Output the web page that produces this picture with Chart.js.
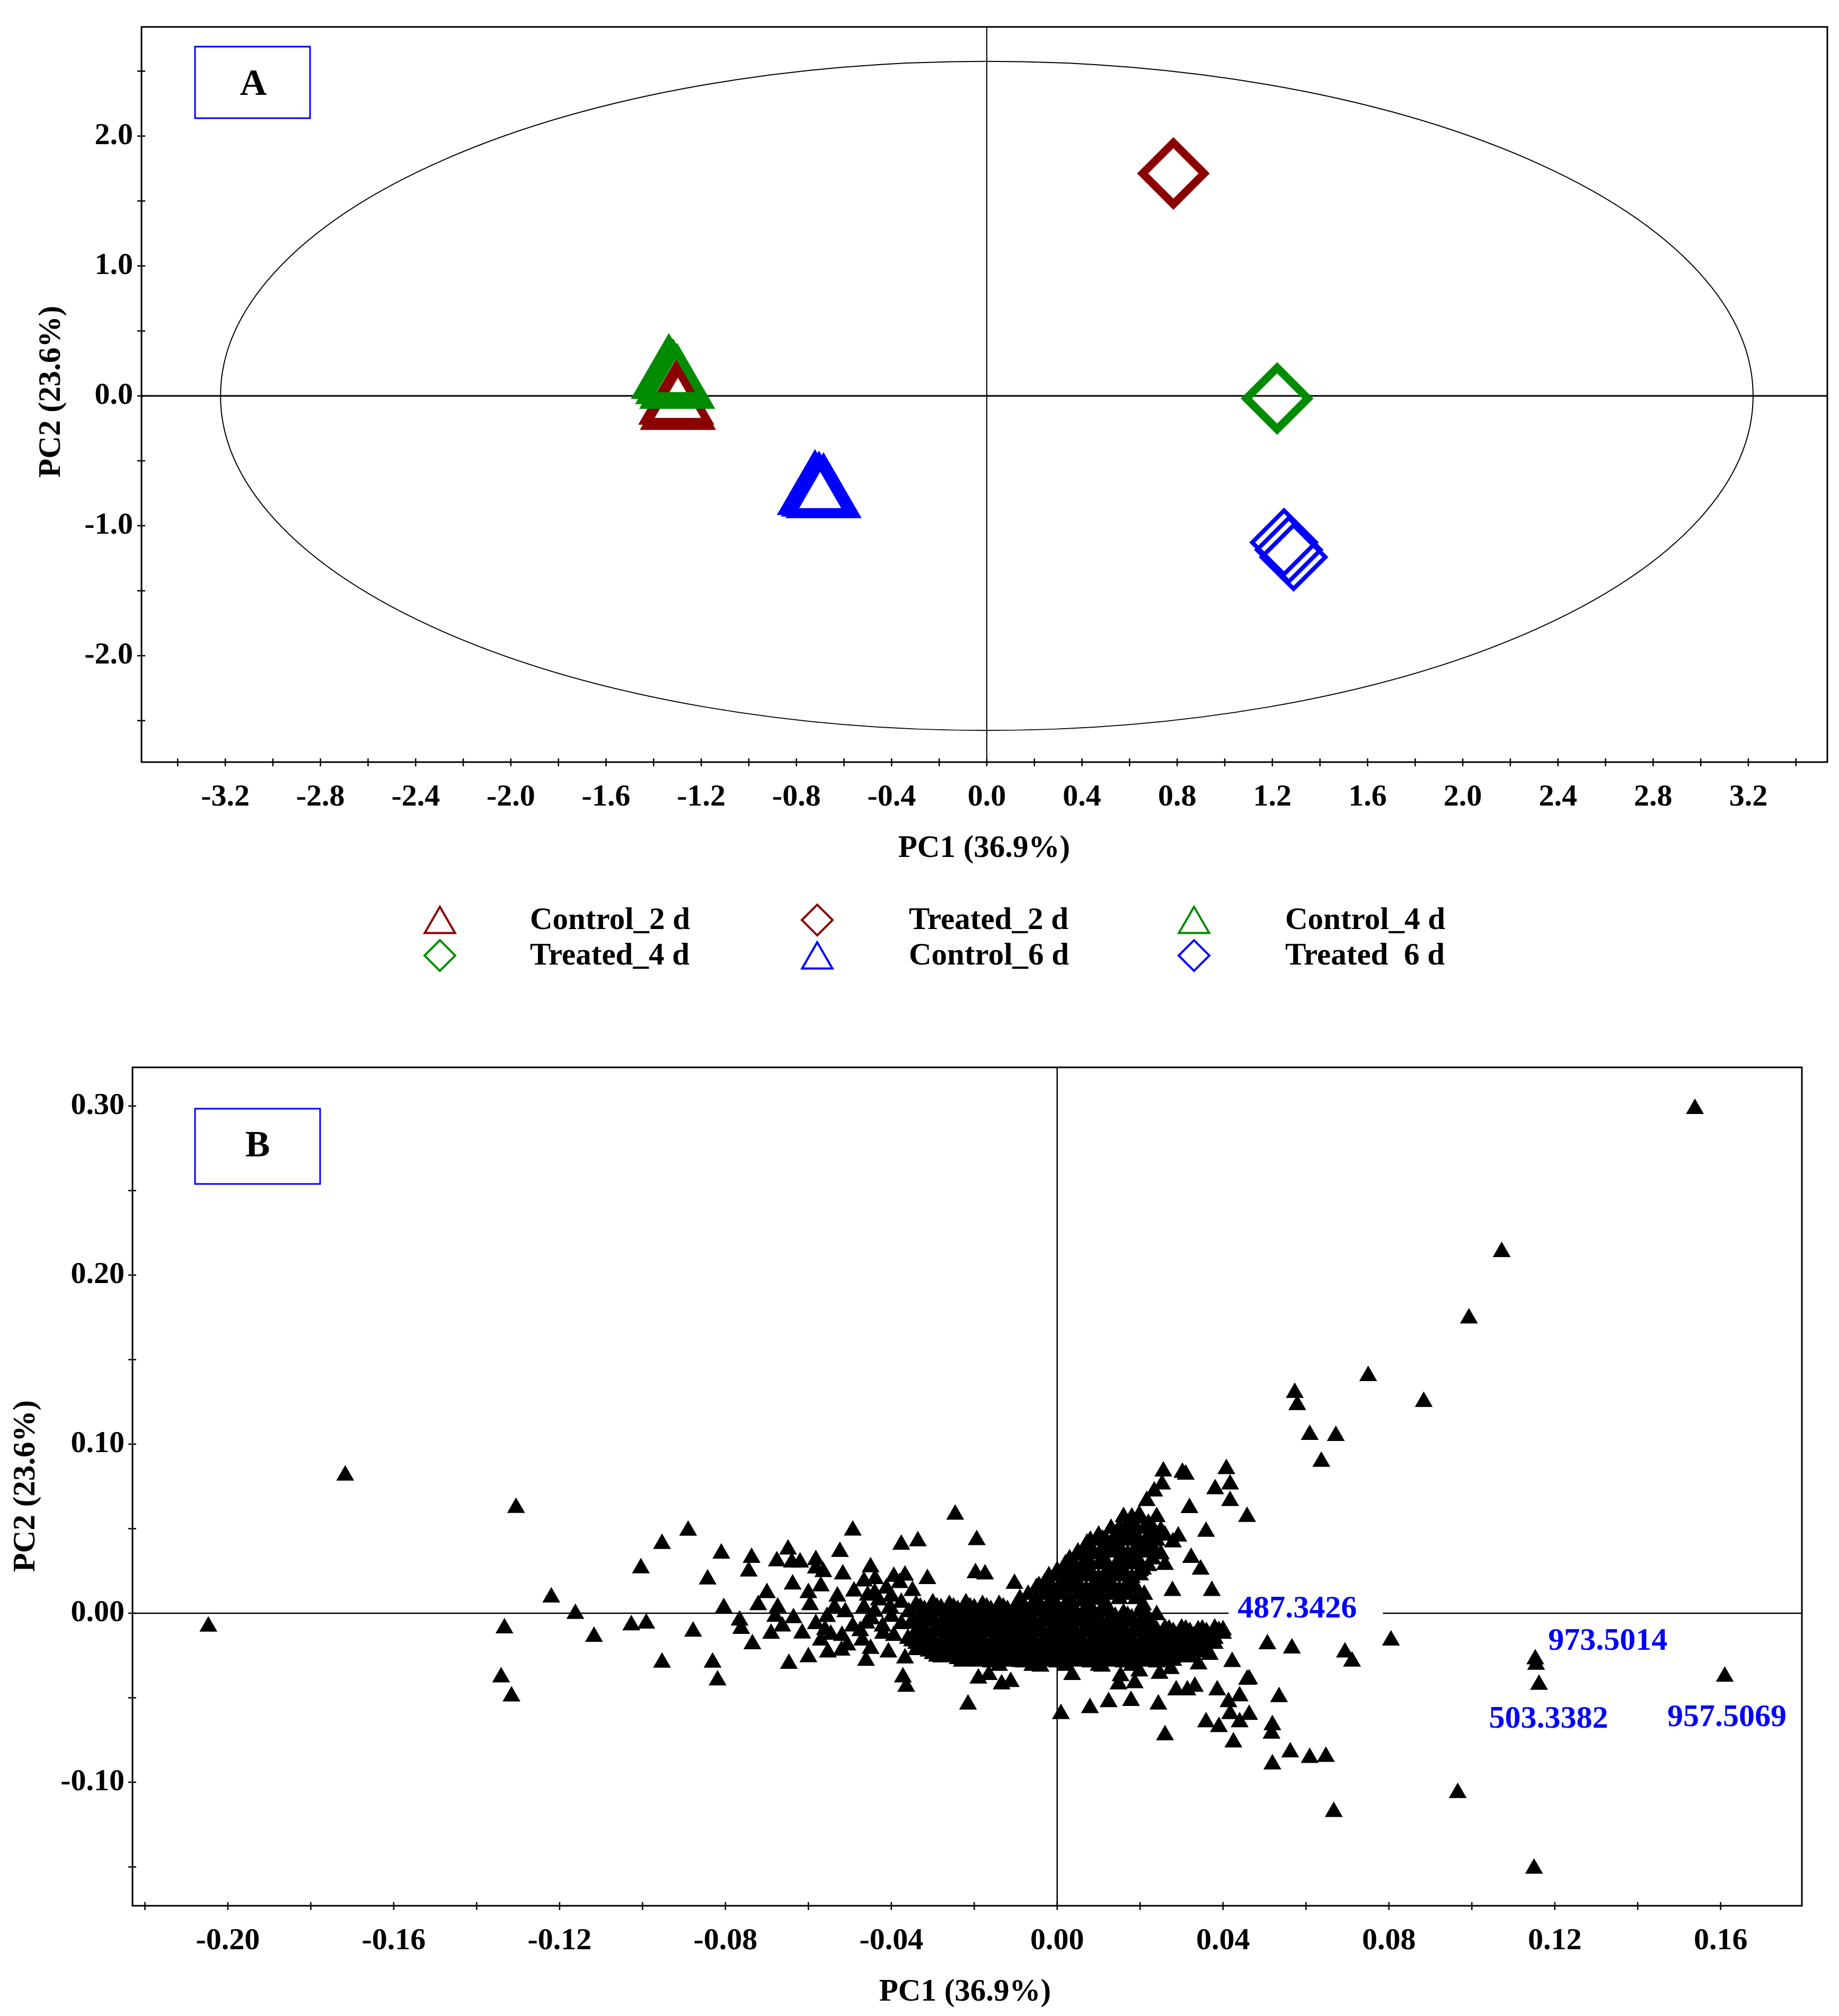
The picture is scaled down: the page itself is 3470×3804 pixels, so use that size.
<!DOCTYPE html>
<html>
<head>
<meta charset="utf-8">
<title>PCA scores and loadings</title>
<script src="https://cdn.jsdelivr.net/npm/chart.js@4.4.1/dist/chart.umd.min.js"></script>
<style>
  html, body { margin: 0; padding: 0; background: #fff; }
  #page { position: relative; width: 3470px; height: 3804px; background: #fff; overflow: hidden; }
  canvas { position: absolute; left: 0; }
</style>
</head>
<body>
<div id="page">
  <canvas id="scoresA" width="3470" height="1900" style="top:0"></canvas>
  <canvas id="loadingsB" width="3470" height="1904" style="top:1900px"></canvas>
</div>
<script>
const FONT = "'Liberation Serif', 'Times New Roman', serif";
const RED = '#8b0000', GREEN = '#008c00', BLUE = '#0000ff';

// ---- A : scores, [PC1, PC2]
const control2d = [[-1.305, -0.053], [-1.298, -0.093]];
const treated2d = [[0.784, 1.712]];
const control4d = [[-1.336, 0.146], [-1.318, 0.105], [-1.301, 0.069]];
const treated4d = [[1.220, -0.020]];
const control6d = [[-0.722, -0.748], [-0.705, -0.760], [-0.686, -0.772]];
const treated6d = [[1.249, -1.128], [1.269, -1.185], [1.289, -1.241]];
const groupNames = ['Control_2 d', 'Treated_2 d', 'Control_4 d', 'Treated_4 d', 'Control_6 d', 'Treated  6 d'];
const ellipseAxes = [3.22, 2.575];   // Hotelling T2 semi-axes (PC1, PC2)

// ---- B : loadings, [PC1, PC2]
const loadingsFarLeft = [
  [-0.2047, -0.0078], [-0.1717, 0.0815], [-0.1305, 0.0624], [-0.1341, -0.0378], [-0.1316, -0.0491],
  [-0.1333, -0.0088], [-0.1220, 0.0094], [-0.1162, -0.0003], [-0.1117, -0.0138], [-0.1027, -0.0070],
  [-0.0991, -0.0060], [-0.1004, 0.0267], [-0.0953, 0.0411], [-0.0890, 0.0489], [-0.0953, -0.0291],
  [-0.0878, -0.0108], [-0.0843, 0.0201], [-0.0831, -0.0291], [-0.0819, -0.0396], [-0.0810, 0.0354],
  [-0.0804, 0.0032]
];
const loadingsLeft = [
  [-0.0737, 0.0329], [-0.0649, 0.0378], [-0.0676, 0.0308], [-0.0640, 0.0301], [-0.0620, 0.0301],
  [-0.0582, 0.0315], [-0.0524, 0.0364], [-0.0744, 0.0248], [-0.0638, 0.0171], [-0.0582, 0.0266],
  [-0.0564, 0.0245], [-0.0517, 0.0231], [-0.0450, 0.0273], [-0.0394, 0.0217], [-0.0367, 0.0224],
  [-0.0721, 0.0049], [-0.0674, 0.0035], [-0.0596, 0.0049], [-0.0762, -0.0091], [-0.0766, -0.0042],
  [-0.0735, -0.0182], [-0.0663, -0.0077], [-0.0636, -0.0028], [-0.0615, -0.0119], [-0.0560, -0.0098],
  [-0.0546, -0.0126], [-0.0647, -0.0298], [-0.0600, -0.0259], [-0.0553, -0.0231], [-0.0506, -0.0189],
  [-0.0461, -0.0280], [-0.0407, -0.0231], [-0.0372, -0.0378], [-0.0364, -0.0434], [-0.0367, -0.0266],
  [-0.0511, 0.0007], [-0.0493, -0.0077], [-0.0519, -0.0133], [-0.0555, -0.0021], [-0.0582, -0.0063],
  [-0.0537, 0.0035], [-0.0466, 0.0189], [-0.0439, 0.0203], [-0.0412, 0.0147], [-0.0457, 0.0105],
  [-0.0430, 0.0077], [-0.0466, 0.0035], [-0.0403, 0.0035], [-0.0448, -0.0035], [-0.0421, -0.0077],
  [-0.0475, -0.0105], [-0.0376, 0.0063], [-0.0349, 0.0133], [-0.0358, 0.0007], [-0.0376, -0.0063],
  [-0.0340, -0.0105], [-0.0322, -0.0175], [-0.0394, -0.0133],
  [-0.0440, 0.0120], [-0.0400, 0.0100], [-0.0380, 0.0180], [-0.0360, -0.0150], [-0.0420, -0.0120],
  [-0.0460, -0.0060], [-0.0400, -0.0020], [-0.0440, 0.0010], [-0.0680, -0.0020], [-0.0700, 0.0120],
  [-0.0600, 0.0120], [-0.0570, 0.0160], [-0.0530, 0.0100], [-0.0490, 0.0130], [-0.0470, -0.0160],
  [-0.0520, -0.0220], [-0.0570, -0.0160], [-0.0690, -0.0120], [-0.0450, -0.0210]
];
const loadingsUpper = [
  [-0.0246, 0.0584], [-0.0493, 0.0490], [-0.0376, 0.0406], [-0.0336, 0.0427], [-0.0194, 0.0434],
  [-0.0197, 0.0238], [-0.0174, 0.0231], [-0.0103, 0.0175], [-0.0313, 0.0203], [-0.0044, 0.0161],
  [-0.0017, 0.0175], [0.0018, 0.0245], [0.0041, 0.0259]
];
const loadingsLower = [
  [-0.0340, -0.0217], [-0.0295, -0.0217], [-0.0228, -0.0273], [-0.0215, -0.0539], [-0.0190, -0.0385],
  [-0.0165, -0.0364], [-0.0134, -0.0420], [-0.0112, -0.0406], [-0.0089, -0.0287], [-0.0040, -0.0315],
  [0.0009, -0.0595], [0.0036, -0.0364], [0.0079, -0.0560], [0.0124, -0.0525], [0.0178, -0.0518],
  [0.0244, -0.0539], [0.0148, -0.0420], [0.0187, -0.0413], [0.0260, -0.0721], [0.0287, -0.0455],
  [0.0314, -0.0455], [0.0332, -0.0434], [0.0359, -0.0644], [0.0390, -0.0672], [0.0425, -0.0763],
  [0.0440, -0.0644], [0.0417, -0.0595], [0.0413, -0.0525], [0.0440, -0.0490], [0.0386, -0.0455],
  [0.0422, -0.0287], [0.0458, -0.0392], [0.0341, -0.0301], [0.0368, -0.0245], [0.0247, -0.0357],
  [0.0274, -0.0329], [0.0153, -0.0371], [0.0198, -0.0343], [0.0108, -0.0315]
];
const loadingsWing = [
  [0.0256, 0.0840], [0.0310, 0.0821], [0.0302, 0.0832], [0.0408, 0.0854], [0.0381, 0.0735],
  [0.0417, 0.0763], [0.0417, 0.0665], [0.0319, 0.0623], [0.0359, 0.0483], [0.0292, 0.0455],
  [0.0279, 0.0420], [0.0234, 0.0721], [0.0216, 0.0665], [0.0253, 0.0763], [0.0323, 0.0329],
  [0.0346, 0.0259], [0.0278, 0.0133], [0.0373, 0.0133], [0.0260, 0.0287], [0.0180, 0.0567],
  [0.0198, 0.0581], [0.0234, 0.0483], [0.0225, 0.0427], [0.0163, 0.0498], [0.0153, 0.0455],
  [0.0135, 0.0399], [0.0108, 0.0371], [0.0081, 0.0371], [0.0171, 0.0315], [0.0207, 0.0259],
  [0.0072, 0.0413], [0.0050, 0.0343], [0.0126, 0.0161], [0.0207, 0.0049],
  [0.016, 0.057], [0.020, 0.056], [0.024, 0.057],
  [0.013, 0.050], [0.017, 0.049], [0.021, 0.050], [0.025, 0.049],
  [0.008, 0.043], [0.012, 0.042], [0.016, 0.043], [0.020, 0.042], [0.024, 0.043],
  [0.005, 0.036], [0.009, 0.035], [0.013, 0.036], [0.017, 0.035], [0.021, 0.036], [0.025, 0.035],
  [0.002, 0.029], [0.006, 0.028], [0.010, 0.029], [0.014, 0.028], [0.018, 0.029], [0.022, 0.028],
  [-0.002, 0.022], [0.002, 0.021], [0.006, 0.022], [0.010, 0.021], [0.014, 0.022], [0.018, 0.021],
  [-0.005, 0.015], [-0.001, 0.014], [0.003, 0.015], [0.007, 0.014], [0.011, 0.015], [0.015, 0.014], [0.019, 0.015],
  [0.018, 0.053], [0.022, 0.053],
  [0.010, 0.046], [0.014, 0.046], [0.018, 0.046], [0.022, 0.046], [0.026, 0.046],
  [0.007, 0.039], [0.011, 0.039], [0.015, 0.039], [0.019, 0.039], [0.023, 0.039],
  [0.003, 0.032], [0.007, 0.032], [0.011, 0.032], [0.015, 0.032], [0.019, 0.032], [0.023, 0.032],
  [0.000, 0.025], [0.004, 0.025], [0.008, 0.025], [0.012, 0.025], [0.016, 0.025], [0.020, 0.025],
  [-0.003, 0.018], [0.001, 0.018], [0.005, 0.018], [0.009, 0.018], [0.013, 0.018], [0.017, 0.018],
  [-0.007, 0.011], [-0.003, 0.011], [0.001, 0.011], [0.005, 0.011], [0.009, 0.011], [0.013, 0.011],
  [0.017, 0.011], [0.021, 0.011],
  [0.015, 0.0505], [0.019, 0.0505], [0.023, 0.0505],
  [0.011, 0.0435], [0.015, 0.0435], [0.019, 0.0435], [0.023, 0.0435],
  [0.007, 0.0365], [0.011, 0.0365], [0.015, 0.0365], [0.019, 0.0365], [0.023, 0.0365],
  [0.004, 0.0295], [0.008, 0.0295], [0.012, 0.0295], [0.016, 0.0295], [0.020, 0.0295],
  [0.000, 0.0225], [0.004, 0.0225], [0.008, 0.0225], [0.012, 0.0225], [0.016, 0.0225], [0.020, 0.0225],
  [-0.003, 0.0155], [0.001, 0.0155], [0.005, 0.0155], [0.009, 0.0155], [0.013, 0.0155], [0.017, 0.0155],
  [-0.009, 0.0085], [-0.005, 0.0085], [-0.001, 0.0085], [0.003, 0.0085], [0.007, 0.0085], [0.011, 0.0085],
  [0.015, 0.0085], [0.019, 0.0085]
];
const loadingsCore = [
  [-0.034, 0.005], [-0.030, 0.006], [-0.026, 0.005], [-0.022, 0.006], [-0.018, 0.005], [-0.014, 0.005],
  [-0.010, 0.004], [-0.006, 0.005], [-0.002, 0.006], [0.002, 0.005], [0.006, 0.007], [0.010, 0.008],
  [-0.032, 0.000], [-0.028, 0.001], [-0.024, 0.000], [-0.020, 0.001], [-0.016, 0.000], [-0.012, -0.001],
  [-0.008, 0.000], [-0.004, 0.001], [0.000, 0.000], [0.004, 0.001], [0.008, 0.000], [0.012, 0.001],
  [0.016, 0.000], [0.020, 0.001], [0.024, -0.001],
  [-0.034, -0.006], [-0.030, -0.005], [-0.026, -0.006], [-0.022, -0.005], [-0.018, -0.006], [-0.014, -0.006],
  [-0.010, -0.005], [-0.006, -0.006], [-0.002, -0.005], [0.002, -0.006], [0.006, -0.005], [0.010, -0.006],
  [0.014, -0.006], [0.018, -0.005], [0.022, -0.006], [0.026, -0.009], [0.030, -0.009], [0.034, -0.010],
  [0.038, -0.009],
  [-0.032, -0.012], [-0.028, -0.011], [-0.024, -0.012], [-0.020, -0.012], [-0.016, -0.011], [-0.012, -0.012],
  [-0.008, -0.012], [-0.004, -0.011], [0.000, -0.012], [0.004, -0.012], [0.008, -0.011], [0.012, -0.012],
  [0.016, -0.012], [0.020, -0.011], [0.024, -0.012], [0.028, -0.013], [0.032, -0.012], [0.036, -0.013],
  [0.040, -0.012],
  [-0.034, -0.018], [-0.030, -0.017], [-0.026, -0.018], [-0.022, -0.018], [-0.018, -0.017], [-0.014, -0.018],
  [-0.010, -0.018], [-0.006, -0.017], [-0.002, -0.018], [0.002, -0.018], [0.006, -0.017], [0.010, -0.018],
  [0.014, -0.018], [0.018, -0.017], [0.022, -0.018], [0.026, -0.018], [0.030, -0.017], [0.034, -0.018],
  [0.038, -0.018],
  [-0.030, -0.024], [-0.026, -0.023], [-0.022, -0.024], [-0.018, -0.024], [-0.014, -0.023], [-0.010, -0.024],
  [-0.006, -0.024], [-0.002, -0.023], [0.002, -0.024], [0.006, -0.024], [0.010, -0.023], [0.014, -0.024],
  [0.018, -0.024], [0.022, -0.023], [0.026, -0.024], [0.030, -0.024], [0.034, -0.023],
  [-0.020, -0.028], [-0.016, -0.029], [-0.012, -0.028], [-0.008, -0.029], [-0.004, -0.028], [0.000, -0.029],
  [0.004, -0.028], [0.008, -0.029], [0.012, -0.028], [0.016, -0.029], [0.020, -0.028], [0.024, -0.029],
  [0.028, -0.028]
];
const loadingsCoreFill = [
  [-0.032, 0.002], [-0.028, 0.003], [-0.024, 0.002], [-0.020, 0.003], [-0.016, 0.002], [-0.012, 0.002],
  [-0.008, 0.003], [-0.004, 0.002], [0.000, 0.003], [0.004, 0.003], [0.008, 0.004], [0.012, 0.004],
  [-0.030, -0.003], [-0.026, -0.003], [-0.022, -0.002], [-0.018, -0.003], [-0.014, -0.003], [-0.010, -0.002],
  [-0.006, -0.003], [-0.002, -0.003], [0.002, -0.002], [0.006, -0.003], [0.010, -0.003], [0.014, -0.002],
  [0.018, -0.003], [0.022, -0.003],
  [-0.032, -0.009], [-0.028, -0.009], [-0.024, -0.008], [-0.020, -0.009], [-0.016, -0.009], [-0.012, -0.008],
  [-0.008, -0.009], [-0.004, -0.009], [0.000, -0.008], [0.004, -0.009], [0.008, -0.009], [0.012, -0.008],
  [0.016, -0.009], [0.020, -0.009], [0.024, -0.010], [0.028, -0.011], [0.032, -0.011], [0.036, -0.011],
  [0.040, -0.010],
  [-0.030, -0.015], [-0.026, -0.015], [-0.022, -0.014], [-0.018, -0.015], [-0.014, -0.015], [-0.010, -0.014],
  [-0.006, -0.015], [-0.002, -0.015], [0.002, -0.014], [0.006, -0.015], [0.010, -0.015], [0.014, -0.014],
  [0.018, -0.015], [0.022, -0.015], [0.026, -0.015], [0.030, -0.015], [0.034, -0.015], [0.038, -0.015],
  [-0.032, -0.021], [-0.028, -0.021], [-0.024, -0.020], [-0.020, -0.021], [-0.016, -0.021], [-0.012, -0.020],
  [-0.008, -0.021], [-0.004, -0.021], [0.000, -0.020], [0.004, -0.021], [0.008, -0.021], [0.012, -0.020],
  [0.016, -0.021], [0.020, -0.021], [0.024, -0.020], [0.028, -0.021], [0.032, -0.021], [0.036, -0.021],
  [-0.028, -0.026], [-0.024, -0.027], [-0.020, -0.026], [-0.016, -0.026], [-0.012, -0.027], [-0.008, -0.026],
  [-0.004, -0.026], [0.000, -0.027], [0.004, -0.026], [0.008, -0.026], [0.012, -0.027], [0.016, -0.026],
  [0.020, -0.026], [0.024, -0.027], [0.028, -0.026], [0.032, -0.026],
  [-0.014, -0.031], [-0.006, -0.031], [0.002, -0.031], [0.010, -0.031], [0.018, -0.031]
];
const loadingsCoreDense = [
  [-0.033, 0.0035], [-0.029, 0.0035], [-0.025, 0.0035], [-0.021, 0.0035], [-0.017, 0.0035], [-0.013, 0.0035],
  [-0.009, 0.0035], [-0.005, 0.0035], [-0.001, 0.0035], [0.003, 0.0035], [0.007, 0.0035], [0.011, 0.0035],
  [-0.031, -0.0015], [-0.027, -0.0015], [-0.023, -0.0015], [-0.019, -0.0015], [-0.015, -0.0015],
  [-0.011, -0.0015], [-0.007, -0.0015], [-0.003, -0.0015], [0.001, -0.0015], [0.005, -0.0015],
  [0.009, -0.0015], [0.013, -0.0015], [0.017, -0.0015], [0.021, -0.0015],
  [-0.035, -0.0045], [-0.031, -0.0045], [-0.027, -0.0045], [-0.023, -0.0045], [-0.019, -0.0045],
  [-0.015, -0.0045], [-0.011, -0.0045], [-0.007, -0.0045], [-0.003, -0.0045], [0.001, -0.0045],
  [0.005, -0.0045], [0.009, -0.0045], [0.013, -0.0045], [0.017, -0.0045], [0.021, -0.0045],
  [-0.033, -0.0075], [-0.029, -0.0075], [-0.025, -0.0075], [-0.021, -0.0075], [-0.017, -0.0075],
  [-0.013, -0.0075], [-0.009, -0.0075], [-0.005, -0.0075], [-0.001, -0.0075], [0.003, -0.0075],
  [0.007, -0.0075], [0.011, -0.0075], [0.015, -0.0075], [0.019, -0.0075], [0.023, -0.0085],
  [0.027, -0.0095], [0.031, -0.0095], [0.035, -0.0095], [0.039, -0.0105],
  [-0.033, -0.0105], [-0.029, -0.0105], [-0.025, -0.0105], [-0.021, -0.0105], [-0.017, -0.0105],
  [-0.013, -0.0105], [-0.009, -0.0105], [-0.005, -0.0105], [-0.001, -0.0105], [0.003, -0.0105],
  [0.007, -0.0105], [0.011, -0.0105], [0.015, -0.0105], [0.019, -0.0105], [0.023, -0.0105],
  [0.027, -0.0115], [0.031, -0.0115], [0.035, -0.0115],
  [-0.031, -0.0135], [-0.027, -0.0135], [-0.023, -0.0135], [-0.019, -0.0135], [-0.015, -0.0135],
  [-0.011, -0.0135], [-0.007, -0.0135], [-0.003, -0.0135], [0.001, -0.0135], [0.005, -0.0135],
  [0.009, -0.0135], [0.013, -0.0135], [0.017, -0.0135], [0.021, -0.0135], [0.025, -0.0135],
  [0.029, -0.0135], [0.033, -0.0135], [0.037, -0.0135],
  [-0.035, -0.0165], [-0.031, -0.0165], [-0.027, -0.0165], [-0.023, -0.0165], [-0.019, -0.0165],
  [-0.015, -0.0165], [-0.011, -0.0165], [-0.007, -0.0165], [-0.003, -0.0165], [0.001, -0.0165],
  [0.005, -0.0165], [0.009, -0.0165], [0.013, -0.0165], [0.017, -0.0165], [0.021, -0.0165],
  [0.025, -0.0165], [0.029, -0.0165], [0.033, -0.0165], [0.037, -0.0165],
  [-0.033, -0.0195], [-0.029, -0.0195], [-0.025, -0.0195], [-0.021, -0.0195], [-0.017, -0.0195],
  [-0.013, -0.0195], [-0.009, -0.0195], [-0.005, -0.0195], [-0.001, -0.0195], [0.003, -0.0195],
  [0.007, -0.0195], [0.011, -0.0195], [0.015, -0.0195], [0.019, -0.0195], [0.023, -0.0195],
  [0.027, -0.0195], [0.031, -0.0195], [0.035, -0.0195],
  [-0.031, -0.0225], [-0.027, -0.0225], [-0.023, -0.0225], [-0.019, -0.0225], [-0.015, -0.0225],
  [-0.011, -0.0225], [-0.007, -0.0225], [-0.003, -0.0225], [0.001, -0.0225], [0.005, -0.0225],
  [0.009, -0.0225], [0.013, -0.0225], [0.017, -0.0225], [0.021, -0.0225], [0.025, -0.0225],
  [0.029, -0.0225], [0.033, -0.0225],
  [-0.029, -0.0255], [-0.025, -0.0255], [-0.021, -0.0255], [-0.017, -0.0255], [-0.013, -0.0255],
  [-0.009, -0.0255], [-0.005, -0.0255], [-0.001, -0.0255], [0.003, -0.0255], [0.007, -0.0255],
  [0.011, -0.0255], [0.015, -0.0255], [0.019, -0.0255], [0.023, -0.0255], [0.027, -0.0255],
  [0.031, -0.0255],
  [-0.023, -0.0285], [-0.019, -0.0285], [-0.015, -0.0285], [-0.011, -0.0285], [-0.007, -0.0285],
  [-0.003, -0.0285], [0.001, -0.0285], [0.005, -0.0285], [0.009, -0.0285], [0.013, -0.0285],
  [0.017, -0.0285], [0.021, -0.0285], [0.025, -0.0285]
];
const loadingsRight = [
  [0.1538, 0.2984], [0.1072, 0.2137], [0.0993, 0.1745], [0.0750, 0.1404], [0.0884, 0.1251],
  [0.0573, 0.1304], [0.0579, 0.1232], [0.0609, 0.1056], [0.0672, 0.1050], [0.0637, 0.0897],
  [0.0458, 0.0571], [0.0507, -0.0182], [0.0566, -0.0207], [0.0805, -0.0160], [0.0694, -0.0231],
  [0.0711, -0.0285], [0.0463, -0.0390], [0.0535, -0.0495], [0.0517, -0.0711], [0.0519, -0.0661],
  [0.0562, -0.0822], [0.0609, -0.0855], [0.0648, -0.0848], [0.0519, -0.0893], [0.0667, -0.1174],
  [0.0966, -0.1062], [0.1150, -0.1510], [0.1155, -0.0304], [0.1153, -0.0272], [0.1162, -0.0422],
  [0.1610, -0.0374], [0.0463, -0.0600]
];
const markerNames = ['487.3426', '973.5014', '503.3382', '957.5069'];
const markerAt = [[0.0579, 0.0031], [0.1328, -0.0160], [0.1185, -0.0621], [0.1615, -0.0614]];

// ---------------------------------------------------------------
const toXY = arr => arr.map(([x, y]) => ({ x, y }));
const isMultiple = (v, m) => Math.abs(v / m - Math.round(v / m)) < 1e-6;

function axis(min, max, step, labelEvery, decimals, pad, fit) {
  return {
    type: 'linear', min, max,
    grid: { display: false, drawTicks: false },
    border: { display: false },
    ticks: {
      stepSize: step, includeBounds: false, autoSkip: false, maxRotation: 0, padding: pad,
      color: '#000', font: { family: FONT, size: 58, weight: 'bold' },
      callback: v => isMultiple(v, labelEvery) ? (Math.abs(v) < 1e-9 ? 0 : v).toFixed(decimals) : ''
    },
    afterFit: fit
  };
}

// frame and tick marks crossing the frame
function drawFrame(chart) {
  const { ctx, chartArea: a, scales: { x, y } } = chart;
  ctx.save();
  ctx.strokeStyle = '#000';
  ctx.lineWidth = 3;
  ctx.strokeRect(a.left, a.top, a.right - a.left, a.bottom - a.top);
  ctx.lineWidth = 2.5;
  ctx.beginPath();
  x.ticks.forEach(t => {
    const p = x.getPixelForValue(t.value);
    ctx.moveTo(p, a.bottom - 7); ctx.lineTo(p, a.bottom + 8);
  });
  y.ticks.forEach(t => {
    const p = y.getPixelForValue(t.value);
    ctx.moveTo(a.left - 8, p); ctx.lineTo(a.left + 7, p);
  });
  ctx.stroke();
  ctx.restore();
}

function zeroLines(chart, hWidth, vWidth) {
  const { ctx, chartArea: a, scales: { x, y } } = chart;
  const x0 = x.getPixelForValue(0), y0 = y.getPixelForValue(0);
  ctx.strokeStyle = '#000';
  ctx.lineWidth = hWidth;
  ctx.beginPath(); ctx.moveTo(a.left, y0); ctx.lineTo(a.right, y0); ctx.stroke();
  ctx.lineWidth = vWidth;
  ctx.beginPath(); ctx.moveTo(x0, a.top); ctx.lineTo(x0, a.bottom); ctx.stroke();
}

function panelBox(ctx, letter, left, top, w, h, cx, baseline) {
  ctx.save();
  ctx.strokeStyle = BLUE;
  ctx.lineWidth = 3;
  ctx.strokeRect(left, top, w, h);
  ctx.fillStyle = '#000';
  ctx.font = `bold 70px ${FONT}`;
  ctx.textAlign = 'center';
  ctx.textBaseline = 'alphabetic';
  ctx.fillText(letter, cx, baseline);
  ctx.restore();
}

function axisTitles(ctx, xText, xc, yc, yText, yx, yy) {
  ctx.save();
  ctx.fillStyle = '#000';
  ctx.font = `bold 59px ${FONT}`;
  ctx.textAlign = 'center';
  ctx.textBaseline = 'middle';
  ctx.fillText(xText, xc, yc);
  ctx.translate(yx, yy);
  ctx.rotate(-Math.PI / 2);
  ctx.fillText(yText, 0, 0);
  ctx.restore();
}

// ---------------------------------------------------------------
const groups = [
  { data: control2d, color: RED, style: 'triangle', radius: 70, bw: 13, order: 5 },
  { data: treated2d, color: RED, style: 'rectRot', radius: 58, bw: 15, order: 4 },
  { data: control4d, color: GREEN, style: 'triangle', radius: 70, bw: 13, order: 0 },
  { data: treated4d, color: GREEN, style: 'rectRot', radius: 58, bw: 15, order: 3 },
  { data: control6d, color: BLUE, style: 'triangle', radius: 70, bw: 13, order: 2 },
  { data: treated6d, color: BLUE, style: 'rectRot', radius: 60, bw: 8, order: 1 }
];

const decorA = {
  id: 'decorA',
  beforeDatasetsDraw(chart) {
    const { ctx, chartArea: a, scales: { x, y } } = chart;
    ctx.save();
    ctx.beginPath(); ctx.rect(a.left, a.top, a.right - a.left, a.bottom - a.top); ctx.clip();
    const cx = x.getPixelForValue(0), cy = y.getPixelForValue(0);
    ctx.strokeStyle = '#000';
    ctx.lineWidth = 2;
    ctx.beginPath();
    ctx.ellipse(cx, cy, x.getPixelForValue(ellipseAxes[0]) - cx, cy - y.getPixelForValue(ellipseAxes[1]), 0, 0, 2 * Math.PI);
    ctx.stroke();
    zeroLines(chart, 3, 2);
    ctx.restore();
  },
  afterDraw(chart) {
    const ctx = chart.ctx;
    drawFrame(chart);
    panelBox(ctx, 'A', 368, 88, 217, 135, 478, 179);
    axisTitles(ctx, 'PC1 (36.9%)', 1857, 1602, 'PC2 (23.6%)', 98, 739);
    // legend: 3 columns x 2 rows
    const markX = [830, 1542, 2253], textX = [1000, 1715, 2425], rowY = [1736, 1803];
    ctx.save();
    ctx.font = `bold 59px ${FONT}`;
    ctx.textAlign = 'left';
    ctx.textBaseline = 'middle';
    groups.forEach((g, i) => {
      const col = i % 3, row = Math.floor(i / 3);
      const tri = g.style === 'triangle';
      ctx.strokeStyle = g.color;
      ctx.fillStyle = 'rgba(0,0,0,0)';
      ctx.lineWidth = 4;
      ctx.lineJoin = 'miter';
      Chart.helpers.drawPoint(ctx, { pointStyle: g.style, radius: tri ? 33 : 29, borderWidth: 4, rotation: 0 },
        markX[col], rowY[row] + (tri ? 8 : 0));
      ctx.fillStyle = '#000';
      ctx.fillText(groupNames[i], textX[col], rowY[row] + 2);
    });
    ctx.restore();
  }
};

new Chart(document.getElementById('scoresA'), {
  type: 'scatter',
  data: {
    datasets: groups.map((g, i) => ({
      label: groupNames[i],
      data: toXY(g.data),
      order: g.order,
      pointStyle: g.style,
      pointRadius: g.radius,
      pointHoverRadius: g.radius,
      pointBorderWidth: g.bw,
      pointBorderColor: g.color,
      pointBackgroundColor: 'rgba(0,0,0,0)'
    }))
  },
  options: {
    responsive: false, animation: false, devicePixelRatio: 1,
    layout: { autoPadding: false, padding: { left: 0, top: 42, right: 22, bottom: 0 } },
    plugins: { legend: { display: false }, tooltip: { enabled: false } },
    scales: {
      x: axis(-3.552, 3.532, 0.2, 0.4, 1, 32, s => { s.height = 462; }),
      y: axis(-2.819, 2.840, 0.5, 1.0, 1, 16, s => { s.width = 267; })
    }
  },
  plugins: [decorA]
});

// ---------------------------------------------------------------
const decorB = {
  id: 'decorB',
  beforeDatasetsDraw(chart) {
    const { ctx, chartArea: a, scales: { x, y } } = chart;
    ctx.save();
    ctx.beginPath(); ctx.rect(a.left, a.top, a.right - a.left, a.bottom - a.top); ctx.clip();
    zeroLines(chart, 2.5, 2.5);
    ctx.font = `bold 60px ${FONT}`;
    ctx.textAlign = 'center';
    ctx.textBaseline = 'middle';
    markerNames.forEach((name, i) => {
      const px = x.getPixelForValue(markerAt[i][0]), py = y.getPixelForValue(markerAt[i][1]);
      const w = ctx.measureText(name).width;
      ctx.fillStyle = '#fff';
      ctx.fillRect(px - w / 2 - 17, py - 22, w + 66, 44);
      ctx.fillStyle = BLUE;
      ctx.fillText(name, px, py + 2);
    });
    ctx.restore();
  },
  afterDraw(chart) {
    const ctx = chart.ctx;
    drawFrame(chart);
    panelBox(ctx, 'B', 368, 192, 236, 142, 486, 282);
    axisTitles(ctx, 'PC1 (36.9%)', 1821, 1860, 'PC2 (23.6%)', 50, 904);
  }
};

const allLoadings = [].concat(loadingsFarLeft, loadingsLeft, loadingsUpper, loadingsLower,
  loadingsWing, loadingsCore, loadingsCoreFill, loadingsCoreDense, loadingsRight);

new Chart(document.getElementById('loadingsB'), {
  type: 'scatter',
  data: {
    datasets: [{
      label: 'loadings',
      data: toXY(allLoadings),
      pointStyle: 'triangle',
      pointRadius: 19.5,
      pointHoverRadius: 19.5,
      pointBorderWidth: 0,
      pointBackgroundColor: '#000',
      pointBorderColor: '#000'
    }]
  },
  options: {
    responsive: false, animation: false, devicePixelRatio: 1,
    layout: { autoPadding: false, padding: { left: 0, top: 114, right: 70, bottom: 0 } },
    plugins: { legend: { display: false }, tooltip: { enabled: false } },
    scales: {
      x: axis(-0.2230, 0.1796, 0.02, 0.04, 2, 32, s => { s.height = 208; }),
      y: axis(-0.1730, 0.3229, 0.05, 0.10, 2, 15, s => { s.width = 250; })
    }
  },
  plugins: [decorB]
});
</script>
</body>
</html>
